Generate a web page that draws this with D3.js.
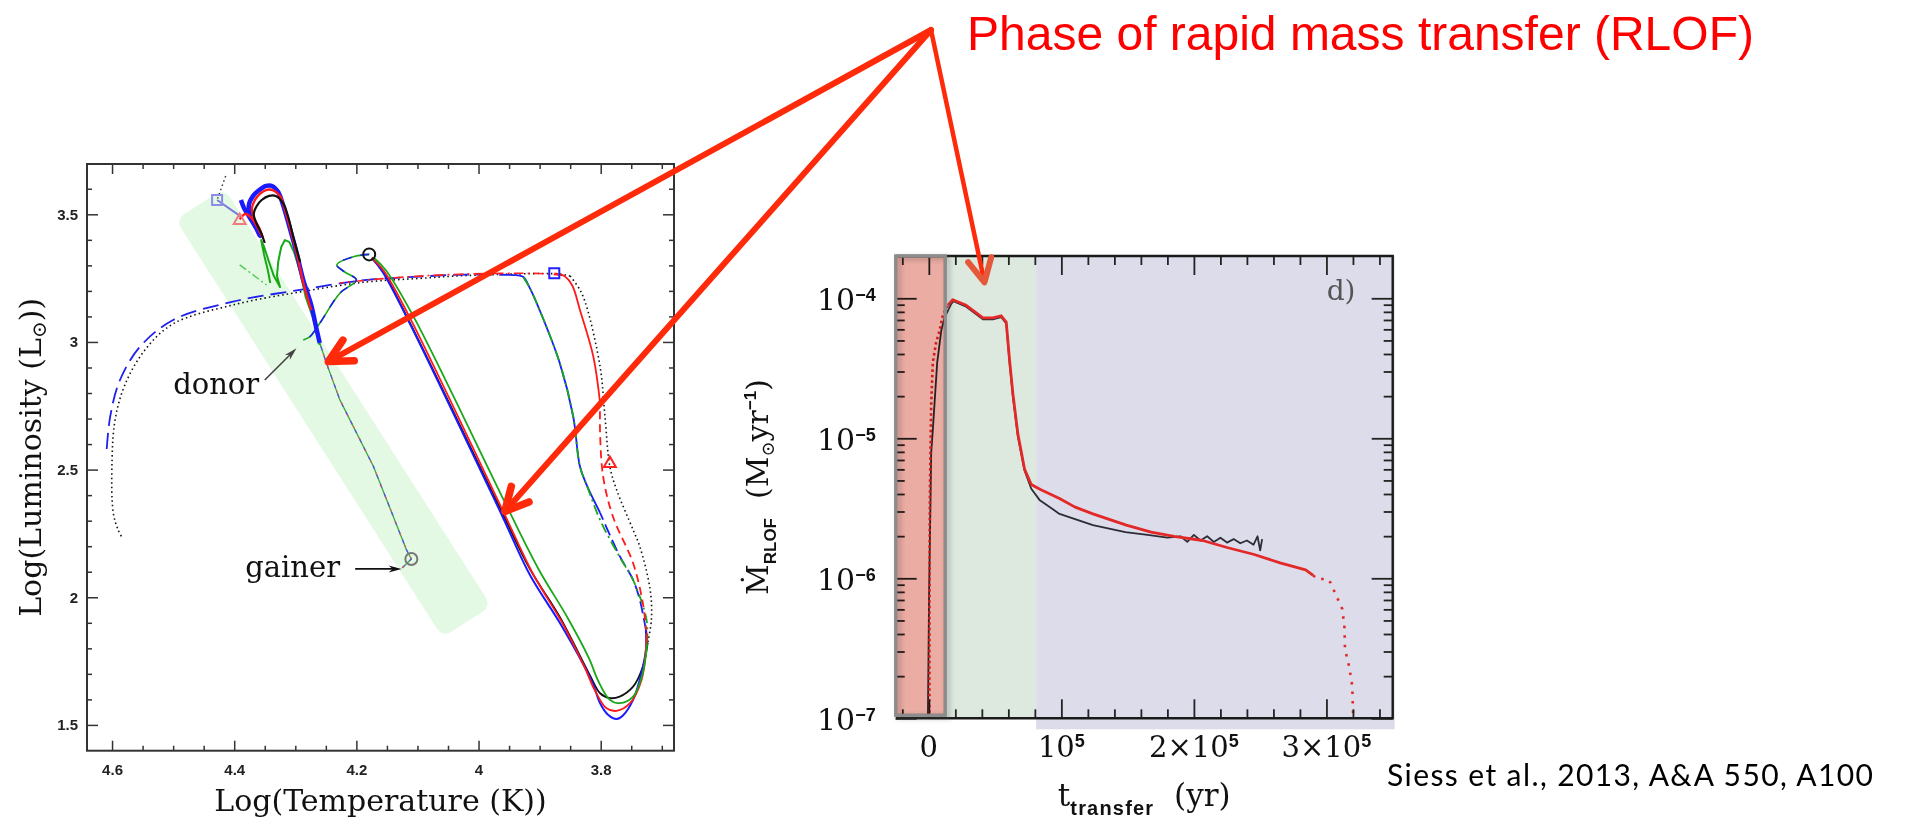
<!DOCTYPE html>
<html>
<head>
<meta charset="utf-8">
<script src="https://cdn.jsdelivr.net/npm/d3@7"></script>
<style>
  body { margin:0; background:#fff; }
  svg { display:block; }
</style>
</head>
<body>
<svg id="fig" width="1908" height="820"></svg>
<script>
// ---- HR diagram tracks, [log Teff, log L]
var blueDiag = [[4.175,3.329],[4.157,3.274],[4.118,3.099],[3.965,2.338],[3.916,2.088],[3.867,1.900],[3.829,1.739],[3.812,1.657],[3.801,1.585],[3.788,1.540],[3.774,1.523],[3.764,1.536],[3.747,1.598],[3.734,1.696],[3.726,1.794],[3.726,1.872]]
var blueRgbDash = [[3.726,1.872],[3.736,1.990],[3.747,2.068],[3.769,2.162],[3.801,2.331]]
var blueRgb = [[3.801,2.331],[3.823,2.440],[3.834,2.512],[3.845,2.708],[3.867,2.917],[3.900,3.125],[3.916,3.211],[3.927,3.255],[3.940,3.262]]
var blueArc = [[3.940,3.262],[4.020,3.264],[4.096,3.256],[4.183,3.243],[4.292,3.204],[4.402,3.158],[4.500,3.086],[4.554,2.982],[4.587,2.851],[4.603,2.708],[4.609,2.571]]

var blackArc = [[3.850,3.258],[3.867,3.266],[4.020,3.260],[4.096,3.249],[4.183,3.235],[4.292,3.196],[4.402,3.145],[4.500,3.071],[4.546,2.969],[4.579,2.832],[4.595,2.695],[4.600,2.538],[4.598,2.331],[4.590,2.264],[4.583,2.231]]
var blackRgb = [[3.850,3.258],[3.834,3.204],[3.823,3.138],[3.801,2.903],[3.793,2.708],[3.785,2.512],[3.774,2.421],[3.747,2.264],[3.736,2.199],[3.719,2.029],[3.717,1.912],[3.723,1.822]]
var blackLoop = [[3.723,1.822],[3.731,1.728],[3.747,1.650],[3.769,1.611],[3.785,1.605],[3.801,1.624],[3.818,1.696],[3.867,1.923],[3.916,2.111],[3.965,2.350],[4.118,3.102],[4.157,3.278],[4.175,3.329]]

var redDiag = [[4.175,3.329],[4.155,3.278],[4.114,3.102],[3.960,2.338],[3.911,2.092],[3.862,1.896],[3.826,1.724],[3.810,1.637],[3.791,1.566],[3.774,1.555],[3.752,1.585],[3.733,1.677],[3.726,1.794],[3.725,1.859]]
var redRgbDash = [[3.725,1.859],[3.731,1.977],[3.747,2.134],[3.780,2.316],[3.796,2.473],[3.801,2.642],[3.801,2.760]]
var redRgb = [[3.801,2.760],[3.812,2.942],[3.834,3.125],[3.847,3.223],[3.861,3.260],[3.876,3.269]]
var redFlat = [[3.861,3.260],[3.900,3.268],[4.020,3.266],[4.096,3.258],[4.161,3.247],[4.227,3.231]]

var greenDiag = [[4.171,3.329],[4.152,3.282],[4.107,3.102],[3.950,2.338],[3.901,2.107],[3.854,1.919],[3.818,1.755],[3.805,1.677],[3.785,1.598],[3.769,1.585],[3.747,1.611],[3.731,1.703],[3.724,1.820]]
var greenRgb = [[3.724,1.820],[3.725,1.912],[3.747,2.068],[3.769,2.158],[3.801,2.303],[3.823,2.440],[3.834,2.512],[3.845,2.708],[3.867,2.917],[3.900,3.125],[3.916,3.211],[3.927,3.255]]

var gainerMS = [[4.125,2.115],[4.110,2.150],[4.118,2.186],[4.172,2.512],[4.227,2.773],[4.249,2.917],[4.260,2.996]]
var blueTop = [[4.260,2.996],[4.266,3.059],[4.274,3.145],[4.287,3.243],[4.299,3.360],[4.309,3.446],[4.320,3.536],[4.328,3.587],[4.338,3.611],[4.348,3.611],[4.359,3.595],[4.369,3.572],[4.376,3.536],[4.374,3.501],[4.366,3.462],[4.358,3.415],[4.364,3.446],[4.376,3.493],[4.384,3.525],[4.389,3.556]]
var redTop = [[4.274,3.125],[4.286,3.223],[4.296,3.329],[4.305,3.415],[4.317,3.517],[4.325,3.572],[4.337,3.595],[4.348,3.595],[4.358,3.580],[4.366,3.556],[4.371,3.525],[4.368,3.486],[4.359,3.446],[4.353,3.407],[4.363,3.454],[4.373,3.489],[4.382,3.501],[4.391,3.480]]
var blackTop = [[4.292,3.313],[4.302,3.399],[4.312,3.493],[4.320,3.544],[4.332,3.572],[4.343,3.572],[4.355,3.556],[4.363,3.533],[4.368,3.501],[4.363,3.462],[4.356,3.427],[4.350,3.388]]
var greenTop = [[4.260,2.988],[4.271,3.094],[4.283,3.176],[4.292,3.274],[4.302,3.352],[4.310,3.392],[4.317,3.399],[4.323,3.372],[4.328,3.313],[4.330,3.258],[4.325,3.215],[4.335,3.258],[4.343,3.313],[4.351,3.372],[4.356,3.399],[4.351,3.341],[4.345,3.282],[4.341,3.231]]
var lightGreen = [[4.391,3.302],[4.347,3.223]]
var violetLink = [[4.428,3.556],[4.389,3.491]]
var blackDotTop = [[4.414,3.650],[4.428,3.556]]
var donorHook = [[4.179,3.343],[4.205,3.334],[4.232,3.302],[4.219,3.274],[4.200,3.243],[4.227,3.191],[4.260,3.073],[4.276,3.021],[4.287,3.008]]

var hrMarkers = [
  {T:4.428, L:3.556, kind:"square",   color:"#8c8ce6"},
  {T:4.391, L:3.480, kind:"triangle", color:"#f27a7a"},
  {T:4.179, L:3.343, kind:"circle",   color:"#111"},
  {T:3.876, L:3.269, kind:"square",   color:"#2222ff"},
  {T:3.785, L:2.528, kind:"triangle", color:"#ff2222"},
  {T:4.110, L:2.150, kind:"circle",   color:"#777"}
]
var bandFrom = [4.456, 3.540], bandTo = [4.019, 1.904]
var hrTickT = [4.6, 4.4, 4.2, 4.0, 3.8], hrTickTLabels = ["4.6","4.4","4.2","4","3.8"]
var hrTickL = [1.5, 2, 2.5, 3, 3.5], hrTickLLabels = ["1.5","2","2.5","3","3.5"]

// ---- RLOF mass-transfer rate, t (yr) and log10 Mdot (Msun/yr)
var tBlack = [-700,150,1000,1800,3000,6300,9400,11800,16900,18500,28200,40800,48300,54600,58400,60900,63400,67200,72200,77300,83500,98600,123800,148300,165000,180000,190000,195000,200000,205000,210000,215000,220000,225000,230000,235000,240000,245000,248000,250000,251500]
var logBlack = [-7.0,-6.15,-5.6,-5.1,-4.94,-4.46,-4.23,-4.14,-4.04,-4.02,-4.06,-4.15,-4.15,-4.135,-4.18,-4.46,-4.70,-4.99,-5.23,-5.36,-5.44,-5.54,-5.62,-5.67,-5.69,-5.71,-5.70,-5.74,-5.69,-5.73,-5.70,-5.74,-5.71,-5.745,-5.72,-5.75,-5.73,-5.76,-5.70,-5.80,-5.72]
var tRed = [450,450,550,900,1800,3000,5400,8100,10600,14400,18100,28200,40800,48300,54600,58400,60900,63400,67200,72200,77300,81000,85000,98600,110000,123800,149000,167700,185000,206600,225000,245500,265000,284300,290000,294000,300000,303000,307700,312000,313600,314000,316500,318000,319500,320200]
var logRed = [-7.0,-6.3,-5.8,-5.3,-4.75,-4.46,-4.32,-4.23,-4.12,-4.05,-4.01,-4.05,-4.14,-4.14,-4.125,-4.17,-4.44,-4.68,-4.97,-5.22,-5.33,-5.35,-5.37,-5.43,-5.49,-5.54,-5.62,-5.67,-5.70,-5.73,-5.78,-5.83,-5.89,-5.94,-5.98,-6.01,-6.0,-6.03,-6.13,-6.22,-6.35,-6.51,-6.6,-6.68,-6.77,-7.0]
var phaseT = [-2.5e4, 1.24e4, 8.1e4, 3.5e5]
var mdTickT = [0, 1e5, 2e5, 3e5]
var mdTickM = [1e-7, 1e-6, 1e-5, 1e-4]

// annotation anchors
var apex = [931, 30]
var rlofTipsHR = [[4.246, 2.923], [3.957, 2.336]]
var rlofTipMd = [42000, 1.3e-4]

var svg = d3.select("#fig")
var serif = "DejaVu Serif, serif"
var sans = "Liberation Sans, Arial, sans-serif"

// ================= left: HR diagram =================
var hr = {left:87, right:674, top:164, bottom:750.7}
var x1 = d3.scaleLinear().domain([4.641, 3.680]).range([hr.left, hr.right])
var y1 = d3.scaleLinear().domain([1.399, 3.697]).range([hr.bottom, hr.top])
var hrG = svg.append("g")

// shaded strip
var pA = [x1(bandFrom[0]), y1(bandFrom[1])], pB = [x1(bandTo[0]), y1(bandTo[1])]
var bandLen = Math.hypot(pB[0]-pA[0], pB[1]-pA[1])
var bandAng = Math.atan2(pB[1]-pA[1], pB[0]-pA[0]) * 180 / Math.PI
hrG.append("rect")
  .attr("x", 0).attr("y", -29).attr("width", bandLen).attr("height", 58).attr("rx", 10)
  .attr("transform", `translate(${pA})rotate(${bandAng})`)
  .attr("fill", "#e3f9e3")

var hrLine = d3.line().x(d => x1(d[0])).y(d => y1(d[1]))
var smooth = d3.line().x(d => x1(d[0])).y(d => y1(d[1])).curve(d3.curveCatmullRom.alpha(0.5))

var tracks = [
  {d:blackArc,    c:"#111",    w:1.6, dash:"1.5,3", gen:smooth},
  {d:blueArc,     c:"#2020ee", w:1.8, dash:"16,7",  gen:smooth},
  {d:redFlat,     c:"#ff2020", w:1.6, dash:"10,4,2,4", gen:smooth},
  {d:blackRgb,    c:"#111",    w:1.6, dash:"1.5,3", gen:smooth},
  {d:blueRgb,     c:"#1a1aff", w:1.8, dash:null,    gen:smooth},
  {d:blueRgbDash, c:"#1a1aff", w:1.8, dash:"12,5",  gen:smooth},
  {d:greenRgb,    c:"#18a818", w:1.8, dash:"10,4,2,4", gen:smooth},
  {d:redRgb,      c:"#ff1a1a", w:1.8, dash:null,    gen:smooth},
  {d:redRgbDash,  c:"#ff1a1a", w:1.8, dash:"8,5",   gen:smooth},
  {d:blackLoop,   c:"#111",    w:1.8, dash:null,    gen:smooth},
  {d:blueDiag,    c:"#1a1aff", w:2,   dash:null,    gen:smooth},
  {d:redDiag,     c:"#ff1a1a", w:1.8, dash:null,    gen:smooth},
  {d:greenDiag,   c:"#18a818", w:1.8, dash:null,    gen:smooth},
  {d:gainerMS,    c:"#3aaa3a", w:1.3, dash:null,    gen:hrLine},
  {d:gainerMS,    c:"#5555ee", w:1.3, dash:"4,6",   gen:hrLine},
  {d:gainerMS,    c:"#ee5555", w:1.3, dash:"2,11",  gen:hrLine},
  {d:donorHook,   c:"#18a818", w:1.6, dash:null,    gen:smooth},
  {d:donorHook,   c:"#2020ee", w:1.6, dash:"9,9",   gen:smooth},
  {d:blackDotTop, c:"#333",    w:1.4, dash:"1.5,3", gen:hrLine},
  {d:violetLink,  c:"#7a7ae0", w:2,   dash:null,    gen:hrLine},
  {d:lightGreen,  c:"#55cc55", w:1.5, dash:"8,3,2,3", gen:hrLine},
  {d:greenTop,    c:"#18a818", w:2,   dash:null,    gen:hrLine},
  {d:blueTop,     c:"#1a1aff", w:4.5, dash:null,    gen:smooth},
  {d:redTop,      c:"#ff1a1a", w:2.4, dash:null,    gen:smooth},
  {d:blackTop,    c:"#111",    w:2.2, dash:null,    gen:smooth}
]
tracks.forEach(s => {
  hrG.append("path").attr("d", s.gen(s.d))
    .attr("fill", "none").attr("stroke", s.c).attr("stroke-width", s.w)
    .attr("stroke-dasharray", s.dash).attr("stroke-linejoin", "round")
})

hrMarkers.forEach(m => {
  var px = x1(m.T), py = y1(m.L), g = hrG.append("g").attr("transform", `translate(${px},${py})`)
  var shape = m.kind == "square" ? "M-5,-5H5V5H-5Z"
            : m.kind == "triangle" ? "M0,-6L6,4.5H-6Z" : d3.arc()({innerRadius:0, outerRadius:6, startAngle:0, endAngle:2*Math.PI})
  g.append("path").attr("d", shape).attr("fill", "none").attr("stroke", m.color).attr("stroke-width", 2)
})

function hrAxis(gen, at, vals, size, labels) {
  var g = hrG.append("g").attr("transform", at)
    .call(gen.tickValues(vals).tickSize(size).tickPadding(labels ? 9 : 0)
      .tickFormat(labels ? d => labels[vals.indexOf(d)] : ""))
  g.select(".domain").remove()
  g.selectAll(".tick line").attr("stroke", "#333").attr("stroke-width", 1.5)
  g.selectAll(".tick text").attr("font-family", sans).attr("font-weight", "bold")
    .attr("font-size", 15).attr("fill", "#222")
  return g
}
var minorT = d3.range(4.55, 3.69, -0.05).filter(v => hrTickT.every(m => Math.abs(m - v) > 1e-6))
var minorL = d3.range(1.6, 3.65, 0.1).filter(v => hrTickL.every(m => Math.abs(m - v) > 1e-6))
hrAxis(d3.axisBottom(x1), `translate(0,${hr.bottom})`, hrTickT, -10, hrTickTLabels).selectAll("text").attr("dy", "1em")
hrAxis(d3.axisBottom(x1), `translate(0,${hr.bottom})`, minorT, -5)
hrAxis(d3.axisTop(x1), `translate(0,${hr.top})`, hrTickT, -10)
hrAxis(d3.axisTop(x1), `translate(0,${hr.top})`, minorT, -5)
hrAxis(d3.axisLeft(y1), `translate(${hr.left},0)`, hrTickL, -11, hrTickLLabels)
hrAxis(d3.axisLeft(y1), `translate(${hr.left},0)`, minorL, -5)
hrAxis(d3.axisRight(y1), `translate(${hr.right},0)`, hrTickL, -11)
hrAxis(d3.axisRight(y1), `translate(${hr.right},0)`, minorL, -5)
hrG.append("rect").attr("x", hr.left).attr("y", hr.top)
  .attr("width", hr.right - hr.left).attr("height", hr.bottom - hr.top)
  .attr("fill", "none").attr("stroke", "#333").attr("stroke-width", 2)

hrG.append("text").attr("x", (hr.left + hr.right) / 2).attr("y", 811)
  .attr("text-anchor", "middle").attr("font-family", serif).attr("font-size", 30).attr("fill", "#111")
  .text("Log(Temperature (K))")
var ylab = hrG.append("text").attr("transform", `translate(41,${(hr.top + hr.bottom) / 2})rotate(-90)`)
  .attr("text-anchor", "middle").attr("font-family", serif).attr("font-size", 30).attr("fill", "#111")
ylab.append("tspan").text("Log(Luminosity (L")
ylab.append("tspan").attr("font-size", 20).attr("dy", 5).text("⊙")
ylab.append("tspan").attr("dy", -5).text("))")

function smallArrow(g, from, to, col) {
  var a = Math.atan2(to[1] - from[1], to[0] - from[0])
  g.append("line").attr("x1", from[0]).attr("y1", from[1])
    .attr("x2", to[0] - 8 * Math.cos(a)).attr("y2", to[1] - 8 * Math.sin(a))
    .attr("stroke", col).attr("stroke-width", 1.6)
  var h = [[to[0], to[1]],
           [to[0] - 13 * Math.cos(a) + 3.5 * Math.sin(a), to[1] - 13 * Math.sin(a) - 3.5 * Math.cos(a)],
           [to[0] - 9 * Math.cos(a), to[1] - 9 * Math.sin(a)],
           [to[0] - 13 * Math.cos(a) - 3.5 * Math.sin(a), to[1] - 13 * Math.sin(a) + 3.5 * Math.cos(a)]]
  g.append("path").attr("d", d3.line()(h) + "Z").attr("fill", col)
}
hrG.append("text").attr("x", x1(4.500)).attr("y", y1(2.795))
  .attr("font-family", serif).attr("font-size", 29).attr("fill", "#111").text("donor")
smallArrow(hrG, [x1(4.350), y1(2.851)], [x1(4.298), y1(2.975)], "#444")
hrG.append("text").attr("x", x1(4.382)).attr("y", y1(2.081))
  .attr("font-family", serif).attr("font-size", 29).attr("fill", "#111").text("gainer")
smallArrow(hrG, [x1(4.202), y1(2.111)], [x1(4.126), y1(2.111)], "#111")

// ================= right: mass-transfer rate =================
var md = {left:895.7, right:1392.7, top:256, bottom:718.3}
var x2 = d3.scaleLinear().domain([phaseT[0], phaseT[3]]).range([md.left, md.right])
var y2 = d3.scaleLog().domain([1e-7, Math.pow(10, -3.698)]).range([md.bottom, md.top])
var mdG = svg.append("g")

var defs = svg.append("defs")
defs.append("filter").attr("id", "shade").attr("x", "-20%").attr("y", "-5%").attr("width", "140%").attr("height", "110%")
  .append("feDropShadow").attr("dx", 3).attr("dy", 2).attr("stdDeviation", 2.5).attr("flood-color", "#555").attr("flood-opacity", 0.4)

mdG.append("rect").attr("x", x2(phaseT[2])).attr("y", md.top)
  .attr("width", md.right - x2(phaseT[2]) + 2).attr("height", md.bottom - md.top + 11).attr("fill", "#dcdcea")
mdG.append("rect").attr("x", x2(phaseT[1])).attr("y", md.top)
  .attr("width", x2(phaseT[2]) - x2(phaseT[1])).attr("height", md.bottom - md.top).attr("fill", "#dde8de")

var mdLine = d3.line().x(d => x2(d[0])).y(d => y2(Math.pow(10, d[1])))
var black = tBlack.map((t, i) => [t, logBlack[i]])
var red = tRed.map((t, i) => [t, logRed[i]])
mdG.append("path").attr("d", mdLine(black)).attr("fill", "none")
  .attr("stroke", "#2c2c36").attr("stroke-width", 1.8).attr("stroke-linejoin", "round")
mdG.append("path").attr("d", mdLine(red.filter(d => d[0] <= 14400))).attr("fill", "none")
  .attr("stroke", "#e32828").attr("stroke-width", 2.6).attr("stroke-dasharray", "2.5,3")
mdG.append("path").attr("d", mdLine(red.filter(d => d[0] >= 14400 && d[0] <= 290000))).attr("fill", "none")
  .attr("stroke", "#e32828").attr("stroke-width", 2.8).attr("stroke-linejoin", "round")
mdG.append("path").attr("d", mdLine(red.filter(d => d[0] >= 290000))).attr("fill", "none")
  .attr("stroke", "#e32828").attr("stroke-width", 2.6).attr("stroke-dasharray", "2.5,7")

function mdAxis(gen, at, vals, size) {
  var g = mdG.append("g").attr("transform", at)
    .call(gen.tickValues(vals).tickSize(size).tickFormat(""))
  g.select(".domain").remove()
  g.selectAll(".tick line").attr("stroke", "#222").attr("stroke-width", 1.8)
  return g
}
var minorTt = d3.range(-2e4, 3.45e5, 2e4).filter(v => v % 1e5 != 0)
var minorM = []
;[1e-7, 1e-6, 1e-5].forEach(p => d3.range(2, 10).forEach(k => minorM.push(k * p)))
mdAxis(d3.axisBottom(x2), `translate(0,${md.bottom})`, mdTickT, -19)
mdAxis(d3.axisBottom(x2), `translate(0,${md.bottom})`, minorTt, -9)
mdAxis(d3.axisTop(x2), `translate(0,${md.top})`, mdTickT, -19)
mdAxis(d3.axisTop(x2), `translate(0,${md.top})`, minorTt, -9)
mdAxis(d3.axisLeft(y2), `translate(${md.left},0)`, mdTickM, -21)
mdAxis(d3.axisLeft(y2), `translate(${md.left},0)`, minorM, -9)
mdAxis(d3.axisRight(y2), `translate(${md.right},0)`, mdTickM, -21)
mdAxis(d3.axisRight(y2), `translate(${md.right},0)`, minorM, -9)
mdG.append("path").attr("d", `M${md.left},${md.top}H${md.right}V${md.bottom}H${md.left}`)
  .attr("fill", "none").attr("stroke", "#1a1a1a").attr("stroke-width", 2.4)

// salmon phase: multiplied over everything below, border carries the shadow
var redW = x2(phaseT[1]) - md.left, redH = md.bottom - md.top - 3
mdG.append("rect").attr("x", md.left).attr("y", md.top).attr("width", redW).attr("height", redH)
  .attr("fill", "none").attr("stroke", "#8c8c8c").attr("stroke-width", 3).attr("filter", "url(#shade)")
mdG.append("rect").attr("x", md.left).attr("y", md.top).attr("width", redW).attr("height", redH)
  .attr("fill", "#eaaca3").style("mix-blend-mode", "multiply")
mdG.append("rect").attr("x", md.left).attr("y", md.top).attr("width", redW).attr("height", redH)
  .attr("fill", "none").attr("stroke", "#8c8c8c").attr("stroke-width", 3)

// tick labels
mdTickM.forEach(v => {
  var t = mdG.append("text").attr("x", md.left - 20).attr("y", y2(v) + 12)
    .attr("text-anchor", "end").attr("font-family", serif).attr("font-size", 30).attr("fill", "#111")
  t.append("tspan").text("10")
  t.append("tspan").attr("dy", -9).attr("font-family", sans).attr("font-weight", "bold")
    .attr("font-size", 18).text("−" + Math.round(-Math.log10(v)))
})
mdTickT.forEach(v => {
  var t = mdG.append("text").attr("x", x2(v)).attr("y", 757)
    .attr("text-anchor", "middle").attr("font-family", serif).attr("font-size", 29).attr("fill", "#111")
  if (v == 0) { t.text("0"); return }
  var m = v / 1e5
  t.append("tspan").text((m == 1 ? "" : m + "×") + "10")
  t.append("tspan").attr("dy", -10).attr("font-family", sans).attr("font-weight", "bold")
    .attr("font-size", 18).text("5")
})

mdG.append("text").attr("x", md.right - 66).attr("y", md.top + 44)
  .attr("font-family", serif).attr("font-size", 28).attr("fill", "#555").text("d)")

var xt = mdG.append("text").attr("x", (md.left + md.right) / 2).attr("y", 806)
  .attr("text-anchor", "middle").attr("font-family", serif).attr("font-size", 31).attr("fill", "#111")
xt.append("tspan").text("t")
xt.append("tspan").attr("dy", 9).attr("font-family", sans).attr("font-weight", "bold")
  .attr("font-size", 20).attr("letter-spacing", 1.2).text("transfer")
xt.append("tspan").attr("dy", -9).text("\u00a0\u00a0(yr)")

var yt = mdG.append("text").attr("transform", `translate(768,487)rotate(-90)`)
  .attr("text-anchor", "middle").attr("font-family", serif).attr("font-size", 30).attr("fill", "#111")
yt.append("tspan").text("Ṁ")
yt.append("tspan").attr("dy", 8).attr("font-family", sans).attr("font-weight", "bold").attr("font-size", 17).text("RLOF")
yt.append("tspan").attr("dy", -8).text("\u00a0\u00a0(M")
yt.append("tspan").attr("dy", 6).attr("font-size", 18).text("⊙")
yt.append("tspan").attr("dy", -6).text("yr")
yt.append("tspan").attr("dy", -12).attr("font-family", sans).attr("font-weight", "bold").attr("font-size", 17).text("−1")
yt.append("tspan").attr("dy", 12).text(")")

// ================= annotations =================
function bigArrow(from, tip, w, col, headCol) {
  var a = Math.atan2(from[1] - tip[1], from[0] - tip[0]), L = 26, s = 27 * Math.PI / 180
  var p1 = [tip[0] + L * Math.cos(a + s), tip[1] + L * Math.sin(a + s)]
  var p2 = [tip[0] + L * Math.cos(a - s), tip[1] + L * Math.sin(a - s)]
  svg.append("line").attr("x1", from[0]).attr("y1", from[1])
    .attr("x2", tip[0] + w * 0.6 * Math.cos(a)).attr("y2", tip[1] + w * 0.6 * Math.sin(a))
    .attr("stroke", col).attr("stroke-width", w).attr("stroke-linecap", "round")
  svg.append("path").attr("d", d3.line()([p1, tip, p2])).attr("fill", "none")
    .attr("stroke", headCol).attr("stroke-width", w + 1.5)
    .attr("stroke-linecap", "round").attr("stroke-linejoin", "round")
}
rlofTipsHR.forEach(p => bigArrow(apex, [x1(p[0]), y1(p[1])], 6, "#ff2a0a", "#ff2a0a"))
bigArrow(apex, [x2(rlofTipMd[0]), y2(rlofTipMd[1])], 4.5, "#ff2a0a", "#e5583a")

svg.append("text").attr("x", 967).attr("y", 50)
  .attr("font-family", sans).attr("font-size", 48).attr("fill", "#ff0000")
  .text("Phase of rapid mass transfer (RLOF)")
svg.append("text").attr("x", 1387).attr("y", 786)
  .attr("font-family", "Comic Sans MS, Lato, sans-serif").attr("font-size", 30).attr("letter-spacing", 1.4).attr("fill", "#000")
  .text("Siess et al., 2013, A&A 550, A100")
</script>
</body>
</html>
